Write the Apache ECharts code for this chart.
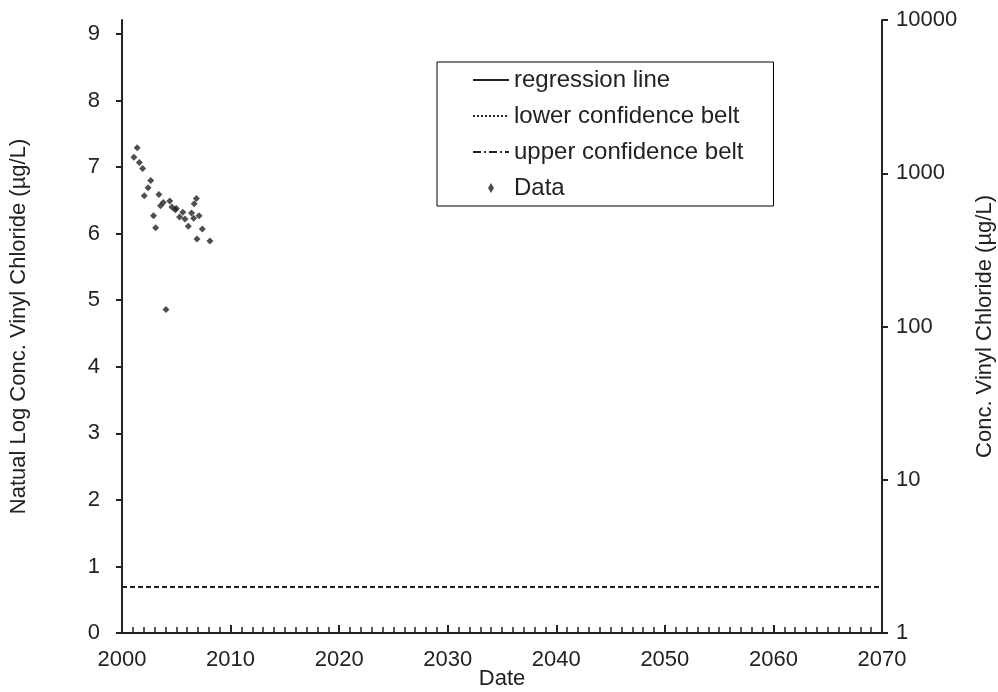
<!DOCTYPE html>
<html><head><meta charset="utf-8">
<script src="https://cdn.jsdelivr.net/npm/echarts@6/dist/echarts.min.js"></script>
<style>html,body{margin:0;background:#fff}#c{width:998px;height:692px}</style>
</head><body><div id="c"></div>
<script>
// data: [year, ln(conc)]
var dataPts = [
  [2001.1, 7.15], [2001.4, 7.29], [2001.6, 7.07], [2001.9, 6.98], [2002.05, 6.57],
  [2002.4, 6.69], [2002.65, 6.80], [2002.9, 6.27], [2003.1, 6.09], [2003.4, 6.59],
  [2003.55, 6.42], [2003.8, 6.47], [2004.05, 4.86], [2004.4, 6.49], [2004.6, 6.40],
  [2004.9, 6.36], [2005.0, 6.38], [2005.3, 6.25], [2005.6, 6.32], [2005.8, 6.22],
  [2006.1, 6.11], [2006.4, 6.31], [2006.6, 6.23], [2006.65, 6.45], [2006.85, 6.53],
  [2006.9, 5.92], [2007.1, 6.27], [2007.4, 6.07], [2008.1, 5.89]
];
var limitLine = [[2000, 0.693], [2070, 0.693]];
var xMin = 2000, xMax = 2070;
var yMaxLn = Math.log(10000);

var font = "Liberation Sans, Arial, sans-serif";
var fs = 22;
var hide = { opacity: 0 };
var chart = echarts.init(document.getElementById("c"));
var option = {
  animation: false,
  textStyle: { fontFamily: font },
  title: {
    text: "Date", left: 502, top: 668, textAlign: "center", padding: 0,
    textStyle: { fontSize: fs, fontWeight: "normal", color: "#222", fontFamily: font }
  },
  grid: { left: 122, right: 116, top: 20, bottom: 59, outerBoundsMode: "none", containLabel: false },
  legend: {
    orient: "vertical", left: 437, top: 62, itemGap: 12,
    padding: [6, 30, 6, 35], borderColor: "#000", borderWidth: 1,
    itemWidth: 36, itemHeight: 10,
    textStyle: { fontSize: 24, color: "#222", fontFamily: font },
    data: [
      { name: "regression line", itemStyle: hide },
      { name: "lower confidence belt", itemStyle: hide },
      { name: "upper confidence belt", itemStyle: hide },
      { name: "Data", icon: "path://M5,0 L8,5 L5,10 L2,5Z", itemStyle: { color: "#222" } }
    ]
  },
  xAxis: {
    type: "value", min: xMin, max: xMax, interval: 10,
    axisLine: { lineStyle: { color: "#222", width: 2 } },
    axisTick: { inside: true, length: 8, lineStyle: { color: "#222", width: 2 } },
    minorTick: { show: true, splitNumber: 10, length: 6, lineStyle: { color: "#222", width: 1.5 } },
    splitLine: { show: false },
    axisLabel: { fontSize: fs, color: "#222", margin: 16, formatter: function (v) { return String(v); } }
  },
  yAxis: [{
    type: "value", min: 0, max: yMaxLn, interval: 1,
    name: "Natual Log Conc. Vinyl Chloride (\u00b5g/L)", nameLocation: "middle", nameGap: 92,
    nameTextStyle: { fontSize: fs, color: "#222" },
    axisLine: { show: true, lineStyle: { color: "#222", width: 2 } },
    axisTick: { show: true, length: 6, lineStyle: { color: "#222", width: 2 } },
    splitLine: { show: false },
    axisLabel: { fontSize: fs, color: "#222", margin: 22, showMaxLabel: false }
  }, {
    type: "log", min: 1, max: 10000, logBase: 10, position: "right",
    name: "Conc. Vinyl Chloride (\u00b5g/L)", nameLocation: "middle", nameGap: 92,
    nameTextStyle: { fontSize: fs, color: "#222" },
    axisLine: { show: true, lineStyle: { color: "#222", width: 2 } },
    axisTick: { show: true, length: 6, lineStyle: { color: "#222", width: 2 } },
    splitLine: { show: false },
    axisLabel: { fontSize: fs, color: "#222", margin: 14, formatter: function (v) { return String(Math.round(v)); } }
  }],
  series: [
    { name: "regression line", type: "line", data: [], symbol: "none",
      lineStyle: { color: "#222", width: 1 }, itemStyle: { color: "#222" } },
    { name: "lower confidence belt", type: "line", data: [], symbol: "none",
      lineStyle: { color: "#222", width: 1, type: [2, 2] }, itemStyle: { color: "#222" } },
    { name: "upper confidence belt", type: "line", data: [], symbol: "none",
      lineStyle: { color: "#222", width: 1, type: [8, 3, 2, 3] }, itemStyle: { color: "#222" } },
    { name: "limit", type: "line", data: limitLine, symbol: "none",
      lineStyle: { color: "#222", width: 2, type: [5, 3] } },
    { name: "Data", type: "scatter", data: dataPts, symbol: "diamond", symbolSize: 7,
      itemStyle: { color: "#222" } }
  ]
};
chart.setOption(option);
</script></body></html>
